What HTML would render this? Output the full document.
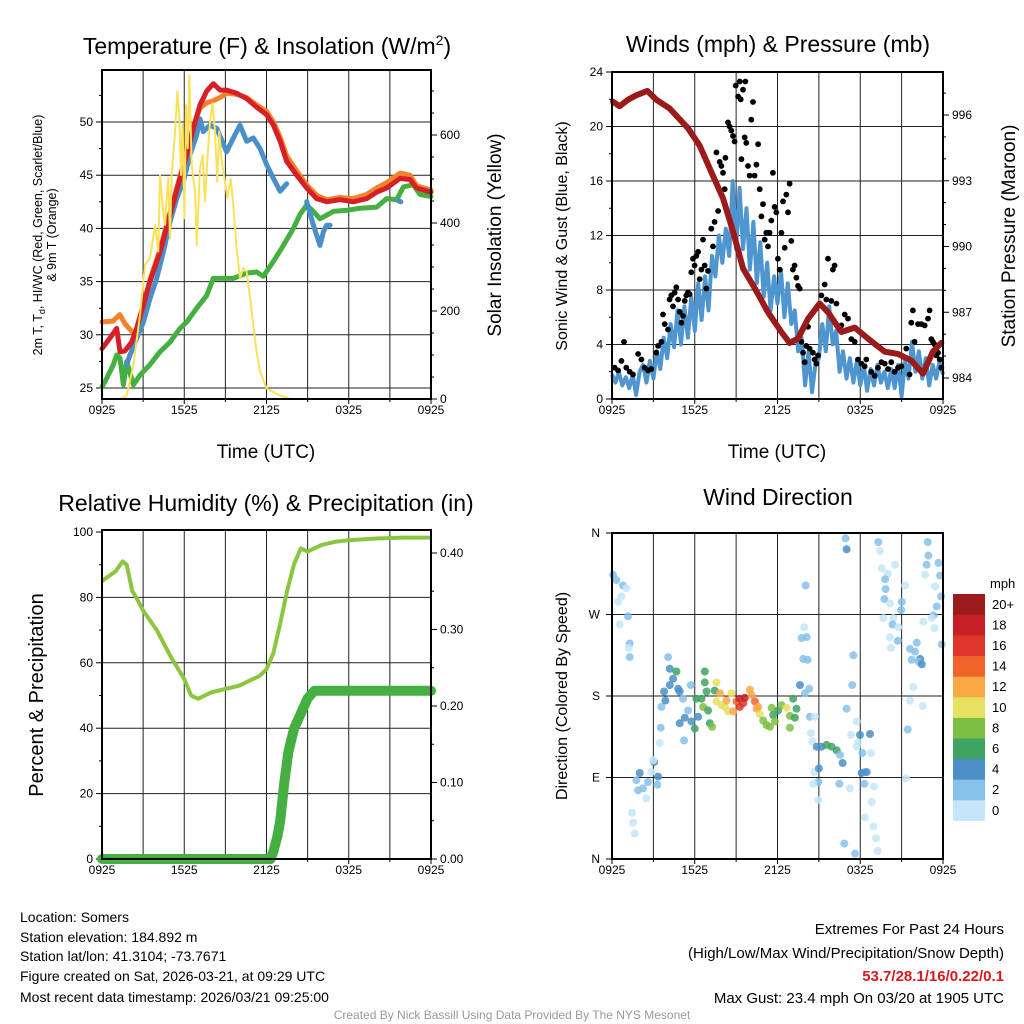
<!DOCTYPE html>
<html><head><meta charset="utf-8"><style>
html,body{margin:0;padding:0;background:#fff;}
svg{display:block;font-family:"Liberation Sans",Arial,sans-serif;}
</style></head><body>
<svg id="chart" width="1024" height="1024" viewBox="0 0 1024 1024" xmlns="http://www.w3.org/2000/svg">
<rect width="1024" height="1024" fill="#fff"/>
<g id="p1"></g>
<g id="p2"></g>
<g id="p3"></g>
<g id="p4"></g>
<text x="267" y="54" font-size="23" text-anchor="middle">Temperature (F) &amp; Insolation (W/m<tspan dy="-9" font-size="14">2</tspan><tspan dy="9">)</tspan></text>
<text x="778" y="52" font-size="23" text-anchor="middle">Winds (mph) &amp; Pressure (mb)</text>
<text x="266" y="511" font-size="23" text-anchor="middle">Relative Humidity (%) &amp; Precipitation (in)</text>
<text x="778" y="505" font-size="23" text-anchor="middle">Wind Direction</text>
<text transform="translate(42,235) rotate(-90)" font-size="12.5" text-anchor="middle">2m T, T<tspan dy="3" font-size="9">d</tspan><tspan dy="-3">, HI/WC (Red, Green, Scarlet/Blue)</tspan></text>
<text transform="translate(56,235) rotate(-90)" font-size="12.5" text-anchor="middle">&amp; 9m T (Orange)</text>
<text transform="translate(501,235) rotate(-90)" font-size="19" text-anchor="middle">Solar Insolation (Yellow)</text>
<text x="266" y="458" font-size="19" text-anchor="middle">Time (UTC)</text>
<text x="777" y="458" font-size="19" text-anchor="middle">Time (UTC)</text>
<text transform="translate(567,236) rotate(-90)" font-size="16" text-anchor="middle">Sonic Wind &amp; Gust (Blue, Black)</text>
<text transform="translate(1015,236) rotate(-90)" font-size="19" text-anchor="middle">Station Pressure (Maroon)</text>
<text transform="translate(43,695) rotate(-90)" font-size="20" text-anchor="middle">Percent &amp; Precipitation</text>
<text transform="translate(567,696) rotate(-90)" font-size="16" text-anchor="middle">Direction (Colored By Speed)</text>
<g font-size="14">
<text x="20" y="922">Location: Somers</text>
<text x="20" y="942">Station elevation: 184.892 m</text>
<text x="20" y="961">Station lat/lon: 41.3104; -73.7671</text>
<text x="20" y="981">Figure created on Sat, 2026-03-21, at 09:29 UTC</text>
<text x="20" y="1002">Most recent data timestamp: 2026/03/21 09:25:00</text>
</g>
<g font-size="15" text-anchor="end">
<text x="1004" y="934">Extremes For Past 24 Hours</text>
<text x="1004" y="958">(High/Low/Max Wind/Precipitation/Snow Depth)</text>
<text x="1004" y="981" fill="#d7191c" font-weight="bold">53.7/28.1/16/0.22/0.1</text>
<text x="1004" y="1003">Max Gust: 23.4 mph On 03/20 at 1905 UTC</text>
</g>
<text x="512" y="1019" font-size="12" fill="#999" text-anchor="middle">Created By Nick Bassill Using Data Provided By The NYS Mesonet</text>
</svg>
<script>
// ---- Panel 1 data ----
const xTickLabels = ["0925","1525","2125","0325","0925"];
const redH = [0,0.58,1.07,1.31,1.68,2.16,2.53,3.02,3.5,4.23,4.96,5.69,6.18,6.66,7.15,7.64,8.12,8.61,9.09,9.82,10.55,11.28,12.01,12.5,12.99,13.47,14.2,14.93,15.66,16.39,17.36,18.33,19.31,20.04,20.77,21.74,22.47,22.96,24];
const redT = [28.7,29.7,30.6,28.4,28.5,29.3,30.6,32.8,35.0,37.8,41.3,44.7,46.9,49.4,51.6,52.9,53.6,53.0,53.0,52.7,52.2,51.4,50.7,49.7,48.2,46.3,45.0,43.8,42.8,42.5,42.7,42.5,42.8,43.4,43.8,44.7,44.6,43.8,43.4];
const orangeH = [0,0.8,1.3,1.7,2.4,3.0,3.5,4.23,4.96,5.69,6.18,6.66,7.15,7.64,8.12,8.61,9.09,9.82,10.55,11.28,12.01,12.5,12.99,13.47,14.2,14.93,15.66,16.39,17.36,18.33,19.31,20.04,20.77,21.74,22.47,22.96,24];
const orangeT = [31.2,31.3,31.9,31.0,30.0,32.8,35.2,38.0,41.5,44.9,47.2,49.6,51.3,51.8,52.0,52.3,52.7,52.6,52.3,51.6,51.0,50.0,48.6,46.8,45.4,44.1,43.1,42.7,42.9,42.8,43.2,43.8,44.3,45.2,45.0,44.0,43.6];
const blueH = [1.8,2.04,3.02,3.5,3.99,4.48,4.96,5.45,5.93,6.42,6.91,7.15,7.39,7.88,8.37,9.09,9.58,10.07,10.55,11.04,11.53,12.01,12.5,12.99,13.47,null,14.93,15.42,15.9,16.15,16.39,16.63,null,21.6,21.8];
const blueT = [27.2,28.1,31.2,33.4,35.3,37.8,40.6,42.8,44.4,46.9,48.8,50.3,49.1,49.7,49.4,47.2,48.5,49.7,48.2,48.5,47.5,46.0,44.7,43.5,44.2,null,42.5,40.3,38.4,39.7,40.3,40.3,null,42.6,42.5];
const greenH = [0,0.34,0.83,1.07,1.31,1.56,1.8,2.29,2.77,3.5,4.23,4.96,5.69,6.18,6.91,7.64,8.12,8.85,9.58,10.55,11.28,11.77,12.5,13.23,13.96,14.44,14.93,15.42,15.9,16.88,17.85,18.82,20.04,20.77,21.5,21.99,22.71,23.2,24];
const greenT = [25.1,25.9,27.2,28.1,27.8,25.3,27.5,25.3,26.2,27.2,28.4,29.3,30.6,31.2,32.5,33.7,35.3,35.3,35.3,35.8,35.9,35.5,36.9,38.4,40.0,41.3,42.2,41.6,40.9,41.6,41.7,41.9,42.0,42.8,42.7,43.9,44.1,43.2,43.0];
const solarH = [0,1.31,1.8,2.29,2.77,3.14,3.5,3.87,4.11,4.23,4.48,4.6,4.72,4.84,4.96,5.08,5.33,5.5,5.64,5.76,5.88,6.01,6.13,6.25,6.37,6.54,6.79,6.91,7.15,7.34,7.51,7.68,7.88,8.07,8.24,8.41,8.56,8.73,8.97,9.14,9.39,9.58,9.82,10.07,10.31,10.55,10.8,11.04,11.28,11.53,12.01,12.99,13.72,24];
const solarW = [0,0,8,77,191,305,320,396,335,509,418,396,457,502,365,509,608,699,645,509,623,411,668,570,736,532,471,350,524,555,449,540,630,672,608,494,608,540,494,457,500,441,343,274,297,290,229,168,107,62,24,8,0,0];
const tempTicks = [25,30,35,40,45,50];
const solarTicks = [0,200,400,600];

// ---- Panel 2 data ----
const windTicks = [0,4,8,12,16,20,24];
const presTicks = [984,987,990,993,996];
const sustained = [1.8,1.2,2.0,1.0,1.6,0.8,1.8,0.3,2.0,2.5,1.2,2.8,1.5,3.5,2.2,4.5,3.0,5.5,3.8,6.5,4.0,6.8,4.5,7.5,5.0,8.5,5.8,9.0,6.5,10.5,9.0,12.0,10.0,12.5,10.5,16.0,11.0,15.5,11.0,14.0,9.5,13.0,8.5,11.5,7.5,10.0,6.5,9.0,7.0,9.5,6.0,8.5,5.5,6.5,3.5,4.5,1.0,3.5,0.5,2.5,3.0,5.5,3.5,6.8,4.0,5.0,2.0,3.5,1.5,3.0,1.2,2.8,1.0,2.5,0.6,2.2,1.0,2.5,1.2,2.0,0.8,2.2,0.8,2.5,0.2,2.8,1.5,4.2,2.0,3.5,1.5,3.0,1.0,2.5,1.5,2.8,1.8];
const gustH = [0.19,0.44,0.68,0.87,1.04,1.28,1.52,1.89,2.13,2.37,2.61,2.85,3.21,3.34,3.58,3.70,3.82,4.06,4.18,4.30,4.42,4.54,4.66,4.79,4.91,5.03,5.15,5.27,5.39,5.51,5.63,5.75,5.87,5.99,6.11,6.24,6.36,6.48,6.60,6.72,6.84,6.96,7.20,7.32,7.44,7.57,7.69,7.81,7.93,8.05,8.17,8.22,8.41,8.53,8.65,8.77,8.89,8.97,9.14,9.26,9.33,9.38,9.50,9.62,9.67,9.74,9.86,9.98,10.10,10.22,10.34,10.47,10.59,10.71,10.83,10.95,11.07,11.19,11.31,11.43,11.55,11.67,11.79,11.91,12.03,12.16,12.28,12.40,12.52,12.64,12.76,12.88,13.00,13.12,13.24,13.37,13.49,13.61,13.73,13.85,13.97,14.09,14.21,14.33,14.57,14.69,14.82,14.94,15.18,15.42,15.54,15.66,15.90,16.02,16.14,16.27,16.63,16.87,17.11,17.35,17.60,17.84,18.08,18.32,18.44,18.80,19.05,19.29,19.53,19.77,20.01,20.25,20.49,20.74,20.98,21.34,21.58,21.70,21.82,21.94,22.19,22.43,22.67,22.91,23.03,23.15,23.27,23.40,23.52,23.64,23.76,23.88];
const gustV = [2.3,2.1,2.8,4.2,2.3,2.0,1.8,3.3,2.9,2.3,2.1,2.2,3.4,3.9,4.2,6.2,5.5,5.1,7.3,7.6,6.8,7.8,8.2,7.3,6.4,5.6,6.1,7.2,7.6,7.8,7.7,9.3,10.3,9.8,10.5,10.8,8.8,9.5,11.7,9.8,8.1,9.4,12.5,11.2,13.0,18.1,13.8,17.4,17.1,16.6,15.4,17.7,20.3,20.0,19.7,19.3,18.9,23.0,22.2,23.3,22.0,17.6,22.7,19.2,23.3,18.8,17.1,16.4,20.5,21.8,16.4,17.2,18.7,15.4,13.4,14.3,11.7,12.2,11.2,12.2,13.1,16.6,14.1,13.7,10.3,9.5,12.2,14.5,11.1,15.0,13.7,15.8,11.6,9.5,9.8,8.9,8.3,8.1,4.2,3.4,2.7,3.9,5.3,3.7,3.4,2.9,2.6,3.2,7.6,8.4,7.3,10.3,7.2,9.5,9.8,7.0,5.4,6.2,5.9,4.4,4.2,2.9,2.6,2.4,2.9,2.0,1.7,2.3,2.7,2.6,2.2,2.7,2.0,2.3,2.4,3.7,1.8,5.6,6.5,4.2,5.5,5.5,5.4,5.9,6.5,4.4,4.2,4.0,3.2,3.4,2.9,2.3];
const presH = [0.07,0.56,1.16,1.76,2.56,3.21,4.18,5.51,6.36,7.2,8.05,8.77,9.5,10.35,11.31,12.28,12.88,13.49,14.21,15.06,15.66,16.63,17.6,18.56,19.77,20.74,21.7,22.55,23.27,23.88];
const presMb = [996.6,996.4,996.7,996.9,997.1,996.7,996.3,995.4,994.6,993.4,992.2,990.7,989.0,988.1,987.0,986.1,985.6,985.8,986.7,987.4,987.0,986.1,986.3,985.8,985.2,985.1,984.8,984.2,985.2,985.6];

// ---- Panel 3 data ----
const rhTicks = [0,20,40,60,80,100];
const pcpTicks = ["0.00","0.10","0.20","0.30","0.40"];
const rhH = [0,1,1.5,1.8,2.2,2.5,3,4,5,6,6.5,7,7.5,8,9,10,11,11.5,12,12.5,13,13.5,14,14.5,15,16,17,18,20,22,24];
const rhV = [85,88,91,90,82,80,76,70,62,55,50,49,50,51,52,53,55,56,58,63,72,82,90,95,94,96,97,97.5,98,98.3,98.3];
const pcpH = [0,12.3,12.5,12.8,13,13.3,13.6,14,14.5,15,15.5,24];
const pcpV = [0,0,0.01,0.03,0.05,0.10,0.14,0.17,0.19,0.21,0.22,0.22];

// ---- Panel 4 data ----
const dirLabels = ["N","E","S","W","N"];
const speedBins = ["0","2","4","6","8","10","12","14","16","18","20+"];
const speedColors = ["#c4e6f8","#86c1ea","#4a8fc6","#3fa362","#7bc043","#e8e060","#f8a844","#f0642a","#e0352a","#c62026","#9b1c1c"];
const dirH = [0.07,0.32,0.8,1.04,0.68,0.44,0.56,1.16,1.28,1.21,1.28,1.77,2.01,1.89,2.25,2.49,2.61,2.86,3.05,3.34,3.29,2.98,1.45,1.53,1.65,3.46,3.53,3.58,3.87,3.78,4.19,4.07,4.19,4.43,4.67,4.79,4.91,5.15,5.71,5.52,5.28,4.91,5.23,5.76,6.0,6.24,6.12,6.49,6.61,6.73,6.73,6.97,7.09,7.26,6.85,7.45,7.58,7.58,7.82,7.94,8.18,8.3,8.42,8.66,8.79,9.03,9.27,9.27,9.51,9.63,9.99,10.12,10.36,10.48,10.72,10.6,10.96,11.2,11.45,11.57,11.69,11.81,12.05,12.29,12.66,12.9,12.9,13.14,13.38,13.26,13.63,13.99,14.3,14.35,14.71,14.42,14.52,14.84,15.2,15.56,15.92,16.29,16.53,16.72,14.67,14.96,15.0,14.59,14.96,16.48,17.25,17.01,17.74,17.33,17.86,17.98,17.74,18.15,18.3,18.1,18.47,18.71,18.78,18.3,19.0,18.83,18.34,18.95,19.14,19.26,16.84,17.62,17.5,17.42,14.04,13.94,13.75,14.11,13.87,14.18,16.94,17.01,19.31,19.43,19.55,19.99,20.52,19.8,19.84,19.75,20.16,19.68,20.4,20.33,20.76,20.16,20.23,20.72,21.01,20.96,21.25,22.89,22.94,22.82,23.67,23.79,22.7,23.43,23.86,23.55,23.31,23.19,22.58,23.38,23.91,22.1,21.61,21.97,22.34,21.73,22.22,22.46,21.85,21.61,21.44,22.53,21.32];
const dirDeg = [314,308,302,299,290,284,259,268,238,233,223,87,95,76,78,67,85,96,107,91,82,109,51,40,28,128,145,168,175,185,192,223,210,199,207,188,185,177,192,164,156,150,131,152,144,157,177,177,168,207,195,164,150,146,185,186,195,174,183,170,168,175,163,183,163,174,168,177,172,178,187,181,174,166,160,168,153,148,146,167,159,152,164,170,167,158,145,177,166,156,192,183,188,157,157,139,130,124,124,126,124,120,115,106,96,85,100,83,65,83,78,166,152,137,129,137,124,117,96,95,96,138,117,83,80,63,46,36,23,9,17,6,225,192,302,256,244,245,221,220,354,342,350,340,321,315,325,309,298,287,282,266,266,259,256,245,233,241,284,275,302,350,335,325,327,313,314,301,290,279,269,266,262,255,237,239,232,229,221,220,218,215,190,175,143,169,89];
const dirSpd = [2,2,2,0,0,0,0,2,2,0,2,2,4,2,2,0,2,0,4,4,2,0,0,0,0,0,2,2,4,4,4,2,4,4,6,4,4,2,2,2,4,4,2,4,6,4,6,6,8,6,6,6,6,8,6,6,10,10,12,10,10,12,10,10,12,14,16,18,16,18,12,12,14,12,10,12,8,8,8,8,6,8,6,8,10,8,8,6,6,6,4,2,2,2,0,0,0,4,4,6,6,6,2,4,0,2,4,0,0,2,0,2,0,0,0,4,0,2,2,4,4,4,0,2,0,0,0,0,0,0,2,2,2,2,2,0,2,2,2,2,2,4,2,0,0,0,0,2,2,2,0,0,0,2,0,0,0,2,2,2,0,2,2,2,2,2,0,0,2,2,2,0,0,0,2,2,2,2,4,2,2,4,0,0,2,0,0];

const NS = "http://www.w3.org/2000/svg";
function mk(parent, tag, attrs, text) {
  const e = document.createElementNS(NS, tag);
  for (const k in attrs) e.setAttribute(k, attrs[k]);
  if (text !== undefined) e.textContent = text;
  parent.appendChild(e);
  return e;
}
function scale(d0, d1, r0, r1) { return v => r0 + (v - d0) / (d1 - d0) * (r1 - r0); }
function pathD(hs, vs, xs, ys) {
  let d = "", pen = false;
  for (let i = 0; i < hs.length; i++) {
    if (hs[i] === null || vs[i] === null) { pen = false; continue; }
    d += (pen ? "L" : "M") + xs(hs[i]).toFixed(1) + "," + ys(vs[i]).toFixed(1);
    pen = true;
  }
  return d;
}
function frame(g, L, T, R, B, hGrid) {
  const gr = mk(g, "g", {stroke: "#222", "stroke-width": 1});
  
  
  for (let i = 1; i < 8; i++) { const x = L + (R - L) * i / 8; mk(gr, "line", {x1: x, x2: x, y1: T, y2: B}); }
  hGrid.forEach(y => mk(gr, "line", {x1: L, x2: R, y1: y, y2: y}));
  const xt = mk(g, "g", {"font-size": 12, "text-anchor": "middle"});
  
  
  xTickLabels.forEach((lab, i) => {
    const x = L + (R - L) * i / 4;
    mk(xt, "text", {x: x, y: B + 15}, lab);
  });
  for (let i = 0; i <= 8; i++) { const x = L + (R - L) * i / 8; mk(xt, "line", {x1: x, x2: x, y1: B, y2: B + (i % 2 ? 3 : 5), stroke: "#000"}); }
}
function border(g, L, T, R, B) {
  const r = mk(g, "rect", {x: L, y: T, width: R - L, height: B - T, fill: "none", stroke: "#000", "stroke-width": 2});
  
  
}
function yTicks(g, vals, ys, x, side, labels, minorVals) {
  const t = mk(g, "g", {"font-size": 12, "text-anchor": side < 0 ? "end" : "start"});
  
  
  vals.forEach((v, i) => {
    const y = ys(v);
    mk(t, "line", {x1: x, x2: x + side * 6, y1: y, y2: y, stroke: "#000"});
    mk(t, "text", {x: x + side * 9, y: y + 4}, labels ? labels[i] : String(v));
  });
  (minorVals || []).forEach(v => { const y = ys(v); mk(t, "line", {x1: x, x2: x + side * 3, y1: y, y2: y, stroke: "#000"}); });
}

// ===== Panel 1 =====
(function () {
  const g = document.getElementById("p1");
  const L = 102, T = 70, R = 431, B = 399;
  const xs = scale(0, 24, L, R), ys = scale(25, 50, 388, 122), ws = scale(0, 600, 399, 135);
  frame(g, L, T, R, B, tempTicks.map(ys));
  yTicks(g, tempTicks, ys, L, -1, null, [27.5,32.5,37.5,42.5,47.5,52.5]);
  yTicks(g, solarTicks, ws, R, 1, null, [50,100,150,250,300,350,450,500,550,650,700]);
  const lines = [
    ["dewpoint-line", greenH, greenT, ys, "#45b041", 5],
    ["heat-index-line", blueH, blueT, ys, "#4a90c8", 5],
    ["orange-9m-temp-line", orangeH, orangeT, ys, "#f5822a", 5],
    ["red-2m-temp-line", redH, redT, ys, "#d42026", 5],
    ["solar-insolation-line", solarH, solarW, ws, "#fbe15a", 2]
  ];
  lines.forEach(([n, h, v, s, c, w]) => {
    const p = mk(g, "path", {d: pathD(h, v, xs, s), fill: "none", stroke: c, "stroke-width": w, "stroke-linejoin": "round", "stroke-linecap": "round"});
    
    
  });
  border(g, L, T, R, B);
})();

// ===== Panel 2 =====
(function () {
  const g = document.getElementById("p2");
  const L = 612, T = 72, R = 943, B = 399;
  const xs = scale(0, 24, L, R), ys = scale(0, 24, B, T), ps = scale(984, 996, 378, 115);
  frame(g, L, T, R, B, windTicks.slice(1, -1).map(ys));
  yTicks(g, windTicks, ys, L, -1, null, [2,6,10,14,18,22]);
  yTicks(g, presTicks, ps, R, 1, null, [985,986,988,989,991,992,994,995,997]);
  const sh = sustained.map((v, i) => i * 0.25);
  const sp = mk(g, "path", {d: pathD(sh, sustained, xs, ys), fill: "none", stroke: "#4f96d0", "stroke-width": 4, "stroke-linejoin": "round"});
  
  
  const gg = mk(g, "g", {fill: "#000"});
  
  
  gustH.forEach((h, i) => {
    const c = mk(gg, "circle", {cx: xs(h).toFixed(1), cy: ys(gustV[i]).toFixed(1), r: 2.9});
    
    
  });
  const pp = mk(g, "path", {d: pathD(presH, presMb, xs, ps), fill: "none", stroke: "#9b1b1b", "stroke-width": 6, "stroke-linejoin": "round", "stroke-linecap": "round"});
  
  
  border(g, L, T, R, B);
})();

// ===== Panel 3 =====
(function () {
  const g = document.getElementById("p3");
  const L = 102, T = 530, R = 431, B = 859;
  const xs = scale(0, 24, L, R), ys = scale(0, 100, B, 532), ps = scale(0, 0.4, B, 553);
  frame(g, L, T, R, B, rhTicks.slice(1, -1).map(ys));
  yTicks(g, rhTicks, ys, L, -1, null, [10,30,50,70,90]);
  yTicks(g, pcpTicks.map(Number), ps, R, 1, pcpTicks, [0.05,0.15,0.25,0.35]);
  const rp = mk(g, "path", {d: pathD(rhH, rhV, xs, ys), fill: "none", stroke: "#8cc63f", "stroke-width": 4, "stroke-linejoin": "round"});
  
  
  const pp = mk(g, "path", {d: pathD(pcpH, pcpV, xs, ps), fill: "none", stroke: "#45b041", "stroke-width": 10, "stroke-linejoin": "round", "stroke-linecap": "round"});
  
  
  border(g, L, T, R, B);
})();

// ===== Panel 4 =====
(function () {
  const g = document.getElementById("p4");
  const L = 612, T = 533, R = 943, B = 859;
  const xs = scale(0, 24, L, R), ds = scale(0, 360, B, T);
  frame(g, L, T, R, B, [90, 180, 270].map(ds));
  const t = mk(g, "g", {"font-size": 12, "text-anchor": "end"});
  
  
  dirLabels.forEach((lab, i) => {
    const y = ds(i * 90);
    mk(t, "line", {x1: L, x2: L - 6, y1: y, y2: y, stroke: "#000"});
    mk(t, "text", {x: L - 12, y: y + 4}, lab);
  });
  const pg = mk(g, "g", {"fill-opacity": 0.85});
  
  
  dirH.forEach((h, i) => {
    const s = dirSpd[i] === undefined ? 0 : dirSpd[i];
    const idx = Math.min(10, Math.floor(s / 2));
    const c = mk(pg, "circle", {cx: xs(h).toFixed(1), cy: ds(dirDeg[i]).toFixed(1), r: 4, fill: speedColors[idx]});
    
    
  });
  border(g, L, T, R, B);
  const cb = mk(g, "g", {});
  
  
  mk(cb, "text", {x: 990, y: 588, "font-size": 13}, "mph");
  const top = 594, bh = 20.6;
  speedBins.forEach((lab, i) => {
    const j = speedBins.length - 1 - i;
    const y = top + j * bh;
    const r = mk(cb, "rect", {x: 953, y: y, width: 32, height: bh + 0.3, fill: speedColors[i]});
    
    
    mk(cb, "text", {x: 992, y: y + bh / 2 + 4.5, "font-size": 13}, lab);
  });
})();
</script>
</body></html>
